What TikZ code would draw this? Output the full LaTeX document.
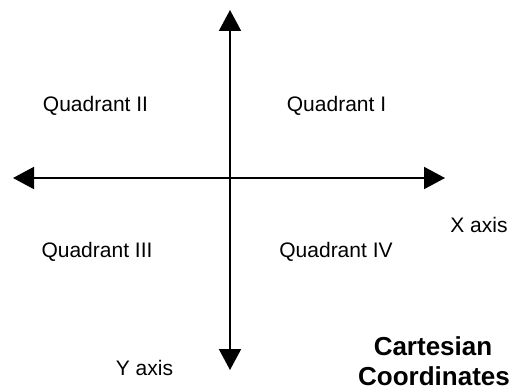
\documentclass[tikz,border=0pt]{standalone}
\usepackage{fontspec}
\setmainfont{Liberation Sans}
\usetikzlibrary{arrows.meta}
\begin{document}
\begin{tikzpicture}[x=1pt,y=-1pt,
  axis/.style={line width=2pt,{Triangle[length=21pt,width=22pt]}-{Triangle[length=21pt,width=22pt]}},
  lbl/.style={anchor=base,inner sep=0pt,font=\fontsize{21}{25}\selectfont},
  ttl/.style={anchor=base,inner sep=0pt,font=\fontsize{26}{30}\selectfont\bfseries,align=center}]
\useasboundingbox (0,0) rectangle (513,390);
\coordinate (L) at (13,178);
\coordinate (R) at (445,178);
\coordinate (T) at (230,10);
\coordinate (B) at (230,370);
\draw[axis] (L) -- (R);
\draw[axis] (T) -- (B);
\node[lbl] (q2) at (95.5,112) {Quadrant II};
\node[lbl] (q1) at (336.5,112) {Quadrant I};
\node[lbl] (q3) at (97,257) {Quadrant III};
\node[lbl] (q4) at (336,257) {Quadrant IV};
\node[lbl] (xa) at (479,232) {X axis};
\node[lbl] (ya) at (144.5,375) {Y axis};
\node[ttl] (t1) at (433,355) {Cartesian};
\node[ttl] (t2) at (434,385) {Coordinates};
\end{tikzpicture}
\end{document}
